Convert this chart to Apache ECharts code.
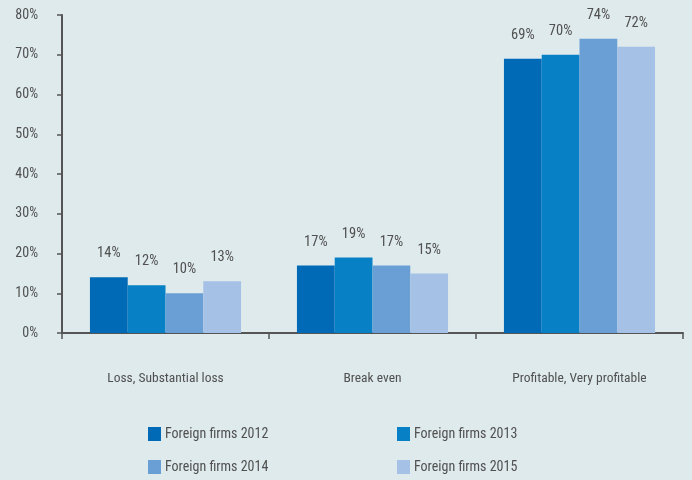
<!DOCTYPE html>
<html><head><meta charset="utf-8">
<script src="https://cdn.jsdelivr.net/npm/echarts@6/dist/echarts.min.js"></script>
<style>html,body{margin:0;padding:0;background:#dfeaec}#c{width:692px;height:480px}</style>
</head><body><div id="c"></div>
<script>
const categories = ['Loss, Substantial loss', 'Break even', 'Profitable, Very profitable'];
const seriesNames = ['Foreign firms 2012', 'Foreign firms 2013', 'Foreign firms 2014', 'Foreign firms 2015'];
const v2012 = [14, 17, 69];
const v2013 = [12, 19, 70];
const v2014 = [10, 17, 74];
const v2015 = [13, 15, 72];
const yTicks = [0, 10, 20, 30, 40, 50, 60, 70, 80];

const colors = ['#006ab6', '#0880c5', '#6a9fd6', '#a5c1e6'];
const font = '"Roboto Condensed", "Liberation Sans Narrow", sans-serif';
const txt = '#505050';
const values = [v2012, v2013, v2014, v2015];
const legendPos = [[148, 427], [397, 427], [148, 460], [397, 460]];

const chart = echarts.init(document.getElementById('c'));
chart.setOption({
  backgroundColor: '#dfeaec',
  animation: false,
  grid: { left: 62, right: 9, top: 15, bottom: 147 },
  legend: seriesNames.map((n, i) => ({
    data: [n], left: legendPos[i][0], top: legendPos[i][1], padding: 0,
    itemWidth: 13, itemHeight: 14, itemGap: 0,
    icon: 'rect',
    textStyle: { fontFamily: font, fontSize: 14, color: txt, padding: [0, 0, 0, -1] }
  })),
  xAxis: {
    type: 'category', data: categories,
    axisLine: { lineStyle: { color: '#555', width: 2 } },
    axisTick: { show: true, length: 6, lineStyle: { color: '#555', width: 1.5 } },
    axisLabel: { fontFamily: font, fontSize: 13.5, color: txt, margin: 39 }
  },
  yAxis: {
    type: 'value', min: yTicks[0], max: yTicks[yTicks.length - 1], interval: 10,
    splitLine: { show: false },
    axisLine: { show: true, lineStyle: { color: '#555', width: 2 } },
    axisTick: { show: true, length: 5, lineStyle: { color: '#555', width: 1.5 } },
    axisLabel: { fontFamily: font, fontSize: 14, color: txt, margin: 24, formatter: v => v + '%' }
  },
  series: seriesNames.map((n, i) => ({
    name: n, type: 'bar', data: values[i],
    barGap: '0%', barCategoryGap: '27%',
    itemStyle: { color: colors[i] },
    label: { show: true, position: 'top', distance: 16, formatter: p => p.value + '%',
      fontFamily: font, fontSize: 14.5, color: txt }
  }))
});
</script></body></html>
